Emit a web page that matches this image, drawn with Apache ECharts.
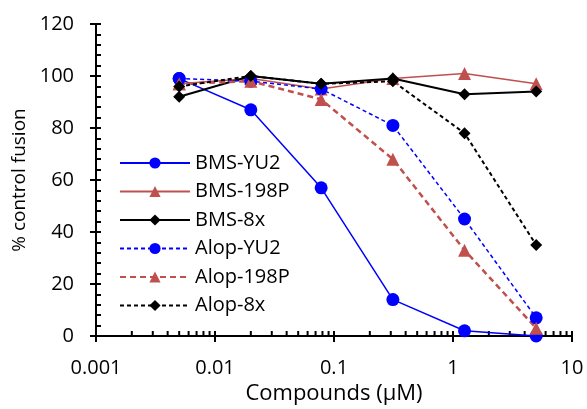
<!DOCTYPE html>
<html>
<head>
<meta charset="utf-8">
<title>% control fusion</title>
<script src="https://cdn.jsdelivr.net/npm/echarts@6/dist/echarts.min.js"></script>
<style>
  html, body { margin: 0; padding: 0; background: #fff; }
  #main { width: 587px; height: 409px; }
</style>
</head>
<body>
<div id="main"></div>
<script>
// concentrations (uM)
var conc = [0.005, 0.02, 0.078, 0.3125, 1.25, 5];

var seriesNames = ['BMS-YU2', 'BMS-198P', 'BMS-8x', 'Alop-YU2', 'Alop-198P', 'Alop-8x'];
var bmsYU2   = [99, 87, 57, 14, 2, 0];
var bms198P  = [97, 99, 95, 99, 101, 97];
var bms8x    = [92, 100, 97, 99, 93, 94];
var alopYU2  = [99, 98, 95, 81, 45, 7];
var alop198P = [97, 98, 91, 68, 33, 3];
var alop8x   = [96, 100, 97, 98, 78, 35];

// minor tick positions on the log x axis
var minorTicksX = [];
[0.001, 0.01, 0.1, 1].forEach(function (d) {
  for (var k = 2; k <= 9; k++) minorTicksX.push(+(d * k).toPrecision(3));
});

var font = 'Open Sans';
var blue = '#0000ff', red = '#c0504d', black = '#000000';

function pairs(vals) {
  return conc.map(function (c, i) { return [c, vals[i]]; });
}

function mkSeries(name, vals, color, symbol, size, type, width) {
  return {
    name: name,
    type: 'line',
    xAxisIndex: 0,
    yAxisIndex: 0,
    data: pairs(vals),
    symbol: symbol,
    symbolSize: size,
    itemStyle: { color: color },
    lineStyle: { color: color, width: width, type: type },
    z: 5
  };
}

var chart = echarts.init(document.getElementById('main'));

var option = {
  animation: false,
  backgroundColor: '#fff',
  textStyle: { fontFamily: font },
  grid: { left: 96, right: 15, top: 24, bottom: 73, containLabel: false, outerBoundsMode: 'none' },
  legend: {
    orient: 'vertical',
    left: 114,
    top: 148,
    itemWidth: 70,
    itemHeight: 14,
    itemGap: 8.5,
    textStyle: { fontFamily: font, fontSize: 20, color: '#000' },
    data: seriesNames
  },
  xAxis: [{
    type: 'log',
    logBase: 10,
    min: 0.001,
    max: 10,
    name: 'Compounds (\u03bcM)',
    nameLocation: 'middle',
    nameGap: 47,
    nameTextStyle: { fontFamily: font, fontSize: 22, color: '#000' },
    axisLine: { lineStyle: { color: '#000', width: 2 } },
    axisTick: { inside: true, length: 5, lineStyle: { color: '#000', width: 2 } },
    axisLabel: {
      margin: 22, fontSize: 20, color: '#000', fontFamily: font,
      formatter: function (v) { return String(parseFloat(Number(v).toPrecision(6))); }
    },
    splitLine: { show: false }
  }, {
    type: 'log',
    logBase: 10,
    min: 0.001,
    max: 10,
    position: 'bottom',
    axisLine: { show: false },
    axisTick: { inside: false, length: 6, lineStyle: { color: '#000', width: 2 } },
    axisLabel: { show: false },
    splitLine: { show: false }
  }],
  yAxis: [{
    type: 'value',
    min: 0,
    max: 120,
    interval: 20,
    name: '% control fusion',
    nameLocation: 'middle',
    nameGap: 52,
    nameTextStyle: { fontFamily: font, fontSize: 19, color: '#000' },
    axisLine: { show: true, lineStyle: { color: '#000', width: 2 } },
    axisTick: { show: true, inside: true, length: 5, lineStyle: { color: '#000', width: 2 } },
    minorTick: { show: true, splitNumber: 5, length: 5, lineStyle: { color: '#000', width: 2 } },
    axisLabel: { margin: 22, fontSize: 20, color: '#000', fontFamily: font },
    splitLine: { show: false }
  }, {
    type: 'value',
    min: 0,
    max: 120,
    interval: 20,
    position: 'left',
    axisLine: { show: false },
    axisTick: { show: true, inside: false, length: 6, lineStyle: { color: '#000', width: 2 } },
    axisLabel: { show: false },
    splitLine: { show: false }
  }],
  series: [
    {
      type: 'custom',
      name: 'minorX',
      xAxisIndex: 0,
      yAxisIndex: 0,
      silent: true,
      data: minorTicksX.map(function (v) { return [v, 0]; }),
      renderItem: function (params, api) {
        var p = api.coord([api.value(0), 0]);
        return {
          type: 'line',
          shape: { x1: p[0], y1: p[1], x2: p[0], y2: p[1] - 5 },
          style: { stroke: '#000', lineWidth: 2 }
        };
      },
      z: 1
    },
    mkSeries('BMS-YU2', bmsYU2, blue, 'circle', 13, 'solid', 1.5),
    mkSeries('BMS-198P', bms198P, red, 'triangle', 13, 'solid', 1.5),
    mkSeries('BMS-8x', bms8x, black, 'diamond', 12, 'solid', 2),
    mkSeries('Alop-YU2', alopYU2, blue, 'circle', 13, [4, 3], 1.5),
    mkSeries('Alop-198P', alop198P, red, 'triangle', 13, [6, 4], 2.5),
    mkSeries('Alop-8x', alop8x, black, 'diamond', 12, [4, 3], 2)
  ]
};

chart.setOption(option);
</script>
</body>
</html>
